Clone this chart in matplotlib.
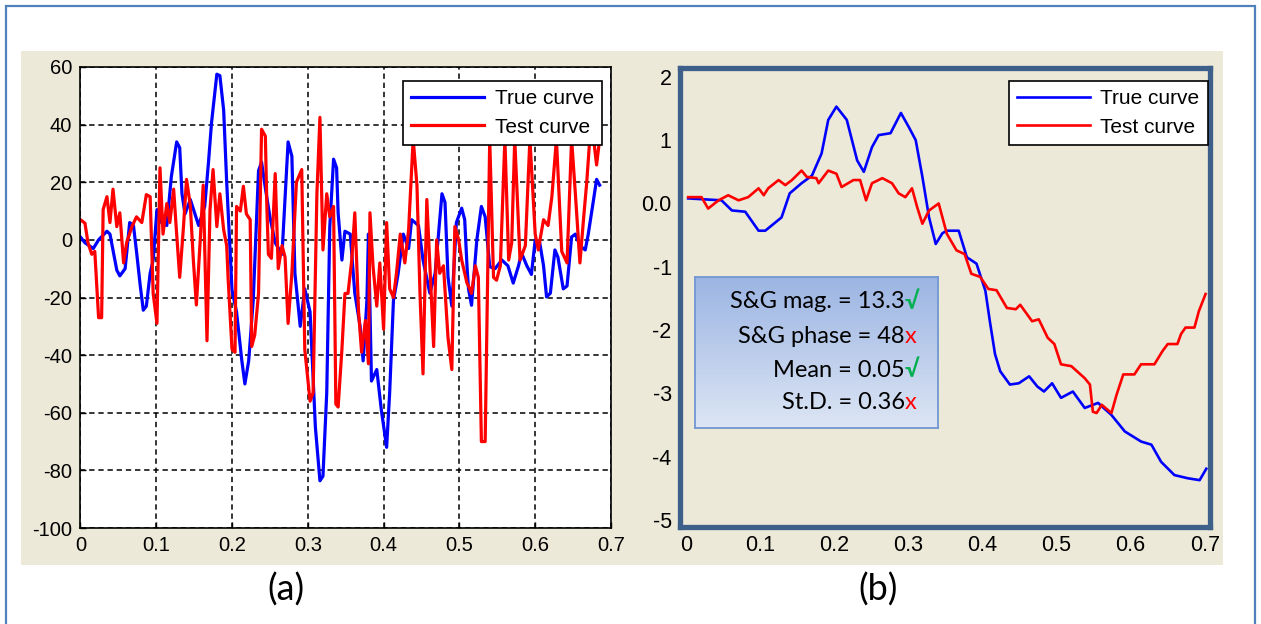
import matplotlib.pyplot as plt
import matplotlib.patches as patches
from matplotlib.colors import LinearSegmentedColormap
import numpy as np

plt.rcParams['axes.unicode_minus'] = False

# ---- panel (a): raw curves ----
a_true_x = [0.000, 0.006, 0.017, 0.024, 0.035, 0.039, 0.048, 0.052, 0.059, 0.065,
            0.070, 0.074, 0.079, 0.083, 0.087, 0.092, 0.096, 0.101, 0.107, 0.114,
            0.120, 0.127, 0.131, 0.134, 0.138, 0.145, 0.156, 0.164, 0.169, 0.173,
            0.180, 0.184, 0.189, 0.193, 0.200, 0.206, 0.213, 0.217, 0.222, 0.228,
            0.235, 0.239, 0.244, 0.250, 0.257, 0.266, 0.274, 0.279, 0.283, 0.290,
            0.296, 0.303, 0.310, 0.316, 0.320, 0.325, 0.329, 0.334, 0.338, 0.340,
            0.345, 0.349, 0.356, 0.362, 0.369, 0.373, 0.378, 0.380, 0.384, 0.391,
            0.397, 0.404, 0.408, 0.413, 0.419, 0.426, 0.433, 0.437, 0.446, 0.452,
            0.461, 0.468, 0.477, 0.481, 0.485, 0.490, 0.496, 0.503, 0.507, 0.510,
            0.512, 0.516, 0.523, 0.529, 0.534, 0.540, 0.547, 0.556, 0.564, 0.571,
            0.578, 0.582, 0.589, 0.595, 0.600, 0.606, 0.611, 0.615, 0.620, 0.626,
            0.630, 0.637, 0.642, 0.648, 0.653, 0.659, 0.666, 0.670, 0.677, 0.681,
            0.685]
a_true_y = [1, -1, -3, 0, 3, 2, -10.5, -12.5, -10, 6,
            5, -4, -16, -24.4, -23, -11.6, -7, 10.5, 6, 5,
            22, 34, 32, 16, 9, 14, 5, 11.6, 27, 40.7,
            57.5, 57, 45, 20, -17.4, -25, -42, -50, -42, -21,
            24, 27, 18, 8, -1, -5, 34, 29, -11.6, -30,
            -17, -25, -65, -83.6, -82, -53, 4.5, 28, 25, 9.4,
            -7, 3, 2, -18.5, -30, -42, -21, 2, -49, -45,
            -59, -72, -53, -21, -12, 2, -3, 7, 5, -7,
            -18.5, -11.6, 16, 13, -13, -23, 6, 11, 7, -9,
            -17, -22.7, 0, 11.6, 8, -9.3, -10, -7, -9, -15,
            -9, -4.6, -9, -12, 0, -1, -9, -19.8, -18.5, -3.5,
            -6, -17, -16, 1, 2, -2, -3.5, 2, 14, 21,
            19]

a_test_x = [0.000, 0.006, 0.010, 0.015, 0.019, 0.024, 0.028, 0.030, 0.035, 0.039,
            0.043, 0.048, 0.052, 0.057, 0.061, 0.068, 0.074, 0.081, 0.087, 0.092,
            0.096, 0.101, 0.105, 0.109, 0.114, 0.118, 0.123, 0.127, 0.131, 0.136,
            0.140, 0.145, 0.149, 0.153, 0.158, 0.162, 0.167, 0.171, 0.175, 0.180,
            0.184, 0.189, 0.193, 0.195, 0.200, 0.204, 0.206, 0.211, 0.215, 0.219,
            0.224, 0.226, 0.230, 0.235, 0.239, 0.244, 0.246, 0.248, 0.252, 0.257,
            0.261, 0.266, 0.270, 0.274, 0.279, 0.285, 0.292, 0.296, 0.303, 0.307,
            0.312, 0.316, 0.320, 0.325, 0.329, 0.334, 0.337, 0.340, 0.345, 0.349,
            0.353, 0.358, 0.362, 0.367, 0.371, 0.376, 0.380, 0.382, 0.386, 0.391,
            0.395, 0.400, 0.404, 0.408, 0.413, 0.417, 0.422, 0.428, 0.433, 0.439,
            0.444, 0.448, 0.452, 0.457, 0.461, 0.466, 0.470, 0.474, 0.479, 0.485,
            0.490, 0.494, 0.499, 0.503, 0.510, 0.512, 0.516, 0.521, 0.525, 0.529,
            0.534, 0.536, 0.540, 0.545, 0.549, 0.554, 0.560, 0.565, 0.569, 0.573,
            0.580, 0.587, 0.593, 0.600, 0.604, 0.611, 0.617, 0.622, 0.628, 0.635,
            0.642, 0.648, 0.653, 0.659, 0.664, 0.668, 0.672, 0.677, 0.681, 0.685]
a_test_y = [7, 5.8, -1, -5, -4, -27, -27, 10.5, 15, 6,
            17.6, 4.6, 9.4, -8, -1, 4.6, 8, 6, 15.7, 15,
            -18.6, -29, 25, 2, 12.6, 6, 17.6, 2, -13, 4.6,
            21, 12, -7, -22.6, -0.5, 19, -35, 10.5, 24.4, 4.6,
            16, 3.5, -2, -14, -38, -39, 11.6, 10, 18.6, 9,
            7, -37, -33, -18.6, 38.4, 36, 11.6, -5, -6.4, 23,
            -10, -2, -6, -29, -11.6, 20, 24.4, -38, -56, -53,
            16, 42.5, -3.5, 16, 8, 11.6, -57, -58, -38, -18.6,
            -18.6, -7, 9.4, -25, -39, -28, -43, 9.4, -9, -23,
            -8, -31, 6, -17, -20, -11.6, 2, -8, 3.5, 35,
            19, -18.6, -46.5, 14, -9, -37, 0, -11.6, -9, -34,
            -45, 4.6, 0, -7, -15, -16, -18.6, -9, -13, -70,
            -70, -35, 35, -13, -14, -9, 35, -7, -1, 35,
            -7, -2, 35, 2, -3.5, 7, 5, 15, 35, -4,
            -8, 35, 16, -8, 8, 20, 35, 35, 26, 35]

# ---- panel (b): filtered curves ----
b_true_x = [0.003, 0.048, 0.062, 0.080, 0.098, 0.107, 0.129, 0.140, 0.156, 0.170,
            0.183, 0.192, 0.203, 0.217, 0.231, 0.240, 0.251, 0.260, 0.276, 0.290,
            0.301, 0.310, 0.319, 0.328, 0.337, 0.346, 0.352, 0.368, 0.379, 0.392,
            0.404, 0.410, 0.417, 0.424, 0.437, 0.449, 0.463, 0.474, 0.483, 0.494,
            0.506, 0.522, 0.538, 0.556, 0.574, 0.592, 0.614, 0.628, 0.641, 0.659,
            0.677, 0.693, 0.702]
b_true_y = [0.08, 0.05, -0.11, -0.13, -0.43, -0.43, -0.22, 0.16, 0.32, 0.44,
            0.79, 1.32, 1.53, 1.32, 0.68, 0.50, 0.89, 1.08, 1.11, 1.43,
            1.20, 1.00, 0.42, -0.22, -0.64, -0.47, -0.43, -0.43, -0.85, -0.95,
            -1.38, -1.86, -2.38, -2.65, -2.86, -2.84, -2.73, -2.89, -2.97, -2.84,
            -3.07, -2.97, -3.23, -3.15, -3.34, -3.60, -3.76, -3.81, -4.08, -4.29,
            -4.34, -4.37, -4.19]

b_test_x = [0.003, 0.021, 0.030, 0.044, 0.057, 0.071, 0.084, 0.098, 0.105, 0.111,
            0.125, 0.134, 0.143, 0.156, 0.163, 0.176, 0.179, 0.192, 0.203, 0.210,
            0.226, 0.235, 0.243, 0.251, 0.265, 0.278, 0.287, 0.296, 0.305, 0.312,
            0.319, 0.328, 0.341, 0.352, 0.365, 0.376, 0.385, 0.397, 0.408, 0.419,
            0.433, 0.445, 0.451, 0.467, 0.476, 0.488, 0.497, 0.506, 0.520, 0.538,
            0.545, 0.549, 0.554, 0.561, 0.574, 0.581, 0.590, 0.605, 0.614, 0.632,
            0.643, 0.650, 0.663, 0.668, 0.674, 0.686, 0.692, 0.701]
b_test_y = [0.10, 0.10, -0.08, 0.05, 0.13, 0.05, 0.10, 0.24, 0.13, 0.24,
            0.37, 0.29, 0.37, 0.52, 0.42, 0.40, 0.32, 0.52, 0.47, 0.26,
            0.37, 0.37, 0.05, 0.32, 0.40, 0.32, 0.16, 0.10, 0.24, -0.06,
            -0.32, -0.11, 0.00, -0.48, -0.74, -0.80, -1.11, -1.16, -1.35, -1.37,
            -1.65, -1.67, -1.60, -1.86, -1.83, -2.12, -2.22, -2.54, -2.57, -2.76,
            -2.86, -3.29, -3.31, -3.18, -3.31, -3.02, -2.70, -2.70, -2.54, -2.54,
            -2.33, -2.22, -2.22, -2.06, -1.96, -1.96, -1.70, -1.43]

b_yticks = [-5, -4, -3, -2, -1, 0, 1, 2]
b_yticklabels = ['-5', '-4', '-3', '-2', '-1', '0.0', '1', '2']

stats_text = ['S&G mag. = 13.3', 'S&G phase = 48', 'Mean = 0.05', 'St.D. = 0.36']
stats_mark = ['√', 'x', '√', 'x']
stats_ok = [True, False, True, False]

W, H = 1261, 624
beige = '#ECE9D8'
fig = plt.figure(figsize=(W / 100, H / 100), dpi=100)
fig.patch.set_facecolor('white')

def fx(px):
    return px / W

def fy(py):
    return 1 - py / H

# beige panel band and outer frame
fig.add_artist(patches.Rectangle((fx(21), fy(565)), fx(1223) - fx(21), fy(51) - fy(565),
                                 transform=fig.transFigure, facecolor=beige,
                                 edgecolor='none', zorder=0))
fig.add_artist(patches.Rectangle((fx(6), -0.05), fx(1255) - fx(6), fy(6) + 0.05,
                                 transform=fig.transFigure, facecolor='none',
                                 edgecolor='#4F81BD', lw=1.6, zorder=0))

tick_font = 'Liberation Sans'

# ---------- (a) ----------
ax1 = fig.add_axes([fx(80.4), fy(528), fx(611) - fx(80.4), fy(67) - fy(528)])
ax1.set_facecolor('white')
ax1.plot(a_true_x, a_true_y, color='#0000FF', lw=2.3, label='True curve')
ax1.plot(a_test_x, a_test_y, color='#FF0000', lw=2.3, label='Test curve')
ax1.set_xlim(0, 0.7)
ax1.set_ylim(-100, 60)
ax1.set_xticks(np.arange(0, 0.71, 0.1))
ax1.set_xticklabels(['0', '0.1', '0.2', '0.3', '0.4', '0.5', '0.6', '0.7'])
ax1.set_yticks(np.arange(-100, 61, 20))
ax1.grid(True, color='black', linestyle=(0, (3.5, 2.5)), lw=1.1)
ax1.tick_params(direction='in', length=4, width=1, labelsize=14.5, pad=6)
for lab in ax1.get_xticklabels() + ax1.get_yticklabels():
    lab.set_family(tick_font)
for sp in ax1.spines.values():
    sp.set_color('black')
    sp.set_linewidth(1.2)
leg1 = ax1.legend(loc='upper right', bbox_to_anchor=(0.983, 0.970), borderaxespad=0,
                  fancybox=False, framealpha=1, edgecolor='black',
                  prop={'family': tick_font, 'size': 15},
                  handlelength=3.5, handletextpad=0.5, borderpad=0.4, labelspacing=0.45)
leg1.get_frame().set_linewidth(1.2)
leg1.set_zorder(10)

# ---------- (b) ----------
ax2 = fig.add_axes([fx(680), fy(527), fx(1210) - fx(680), fy(68) - fy(527)])
ax2.set_facecolor(beige)
ax2.plot(b_true_x, b_true_y, color='#0000FF', lw=1.9, label='True curve')
ax2.plot(b_test_x, b_test_y, color='#FF0000', lw=1.9, label='Test curve')
ax2.set_xlim(-0.008, 0.707)
ax2.set_ylim(-5.11, 2.14)
ax2.set_xticks(np.arange(0, 0.71, 0.1))
ax2.set_xticklabels(['0', '0.1', '0.2', '0.3', '0.4', '0.5', '0.6', '0.7'])
ax2.set_yticks(b_yticks)
ax2.set_yticklabels(b_yticklabels)
ax2.tick_params(length=0, labelsize=15.5, pad=6)
for lab in ax2.get_xticklabels() + ax2.get_yticklabels():
    lab.set_family(tick_font)
for sp in ax2.spines.values():
    sp.set_color('#3E5F8A')
    sp.set_linewidth(3.8)
leg2 = ax2.legend(loc='upper right', bbox_to_anchor=(0.9957, 0.972), borderaxespad=0,
                  fancybox=False, framealpha=1, edgecolor='black',
                  prop={'family': tick_font, 'size': 15},
                  handlelength=3.5, handletextpad=0.5, borderpad=0.4, labelspacing=0.45)
leg2.get_frame().set_linewidth(1.2)

# stats box with blue gradient
bax = fig.add_axes([fx(695), fy(428), fx(938) - fx(695), fy(277) - fy(428)])
grad_cmap = LinearSegmentedColormap.from_list('boxgrad', ['#DCE5F4', '#9CB5E3'])
bax.imshow(np.linspace(0, 1, 100).reshape(-1, 1)[::-1], aspect='auto', cmap=grad_cmap,
           extent=[0, 1, 0, 1])
bax.set_xlim(0, 1)
bax.set_ylim(0, 1)
bax.set_xticks([])
bax.set_yticks([])
for sp in bax.spines.values():
    sp.set_color('#7297D2')
    sp.set_linewidth(1.3)
line_y = [0.836, 0.605, 0.384, 0.166]
x_split = (905 - 695) / (938 - 695)
for txt, mk, ok, yy in zip(stats_text, stats_mark, stats_ok, line_y):
    bax.text(x_split, yy, txt, ha='right', va='center', fontsize=17,
             family=['Lato', 'DejaVu Sans'], color='black')
    bax.text(x_split, yy, mk, ha='left', va='center', fontsize=17,
             fontweight='bold' if ok else 'normal',
             family=['Lato', 'DejaVu Sans'], color='#00B050' if ok else '#FF0000')

# panel captions
fig.text(fx(286), fy(590), '(a)', ha='center', va='center', fontsize=26, family='Lato')
fig.text(fx(878), fy(590), '(b)', ha='center', va='center', fontsize=26, family='Lato')

fig.savefig('out.png', dpi=100)
